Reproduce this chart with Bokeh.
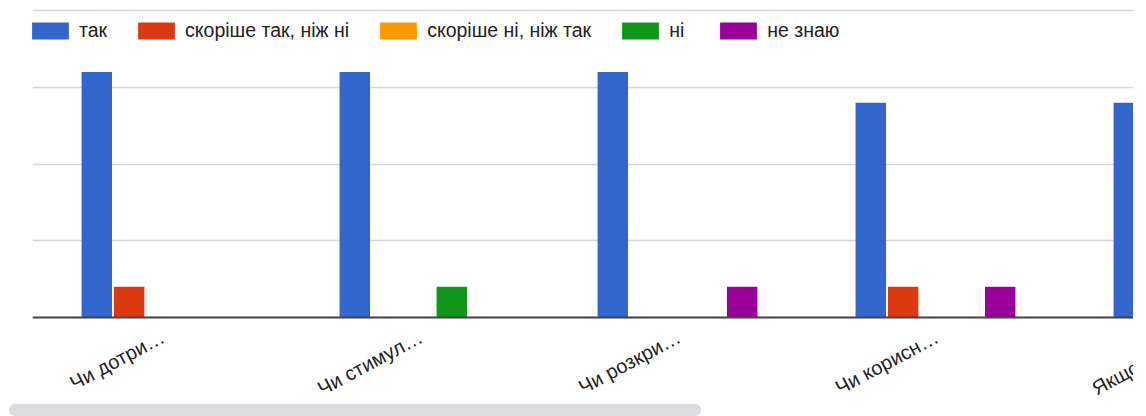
import math
from bokeh.plotting import figure
from bokeh.models import ColumnDataSource, FixedTicker, Range1d, Legend, LegendItem, Div, Span
from bokeh.core.properties import value
from bokeh.layouts import column
from bokeh.embed import file_html
from bokeh.resources import INLINE

# ---- data ----
categories = ["Чи дотри…", "Чи стимул…", "Чи розкри…", "Чи корисн…", "Якщо…"]
series_names = ["так", "скоріше так, ніж ні", "скоріше ні, ніж так", "ні", "не знаю"]
tak = [16, 16, 16, 14, 14]
skorishe_tak = [2, 0, 0, 2, 0]
skorishe_ni = [0, 0, 0, 0, 0]
ni = [0, 2, 0, 0, 0]
ne_znayu = [0, 0, 2, 2, 0]
y_ticks = [0, 5, 10, 15, 20]

series_values = [tak, skorishe_tak, skorishe_ni, ni, ne_znayu]
colors = ["#3366cc", "#dc3912", "#ff9900", "#109618", "#990099"]

FONT = "Liberation Sans"
pitch = 0.1254
bar_w = 0.118
CAT_PX = 258.0           # pixels per category
Y_PX = 310 / 20.2        # pixels per value unit
ANGLE = math.radians(28)

# frame extends below the baseline so the slanted category labels live in data space
y_low = -(404 - 317) / Y_PX
p = figure(width=1322, height=404, output_backend="svg", toolbar_location=None,
           x_range=Range1d(-0.5, 4.5), y_range=Range1d(y_low, 20.2),
           min_border_left=32, min_border_right=0, min_border_top=7, min_border_bottom=0)
p.frame_width = 1290
p.frame_height = 397
p.outline_line_color = None
p.background_fill_color = "white"
p.border_fill_color = "white"

xs = list(range(len(categories)))
renderers = []
for i, (name, vals, col) in enumerate(zip(series_names, series_values, colors)):
    off = (i - 2) * pitch
    src = ColumnDataSource(dict(x=[x + off for x in xs], top=vals))
    r = p.vbar(x="x", top="top", bottom=0, width=bar_w, source=src,
               fill_color=col, line_color=None)
    renderers.append((name, r))

# axes / grid
p.yaxis.visible = False
p.xaxis.visible = False
p.yaxis.ticker = FixedTicker(ticks=y_ticks)
p.ygrid.grid_line_color = "#d6d6d6"
p.ygrid.grid_line_width = 1.5
p.xgrid.grid_line_color = None
p.add_layout(Span(location=0, dimension="width", line_color="#444444", line_width=2))

# slanted category labels (right end at the category centre)
lab_src = ColumnDataSource(dict(x=[x + 1.5 / CAT_PX for x in xs[:-1]],
                                y=[-(335 - 317) / Y_PX] * (len(xs) - 1),
                                text=categories[:-1]))
p.text(x="x", y="y", text="text", source=lab_src, angle=ANGLE,
       text_align="right", text_baseline="alphabetic",
       text_font=value(FONT), text_font_size="20px", text_color="#222222")
# last category: the chart is scrolled, its label runs past the right edge
p.text(x=[xs[-1] - 100 / CAT_PX], y=[-(389 - 317) / Y_PX], text=[categories[-1]],
       angle=ANGLE, text_align="left", text_baseline="alphabetic",
       text_font=value(FONT), text_font_size="20px", text_color="#222222")

legend = Legend(items=[LegendItem(label=n, renderers=[r]) for n, r in renderers],
                orientation="horizontal", location=(-5, 362),
                glyph_width=46, glyph_height=21, label_standoff=6, spacing=26,
                padding=0, margin=0, border_line_color=None, background_fill_alpha=0,
                label_text_font=FONT, label_text_font_size="19.5px",
                label_text_color="#222222")
p.add_layout(legend, "center")

scroll = Div(width=692, height=12,
             styles={"background-color": "#dadce0", "border-radius": "6px",
                     "margin-left": "9px", "margin-top": "0px"})

layout = column(p, scroll, spacing=0)

# the chart sits in a horizontally scrolled viewport that is 1133px wide
template = """
{% block contents %}
<div style="width:1133px;height:416px;overflow:hidden;">
{{ super() }}
</div>
{% endblock %}
"""
open("out.html", "w").write(file_html(layout, INLINE, template=template))
